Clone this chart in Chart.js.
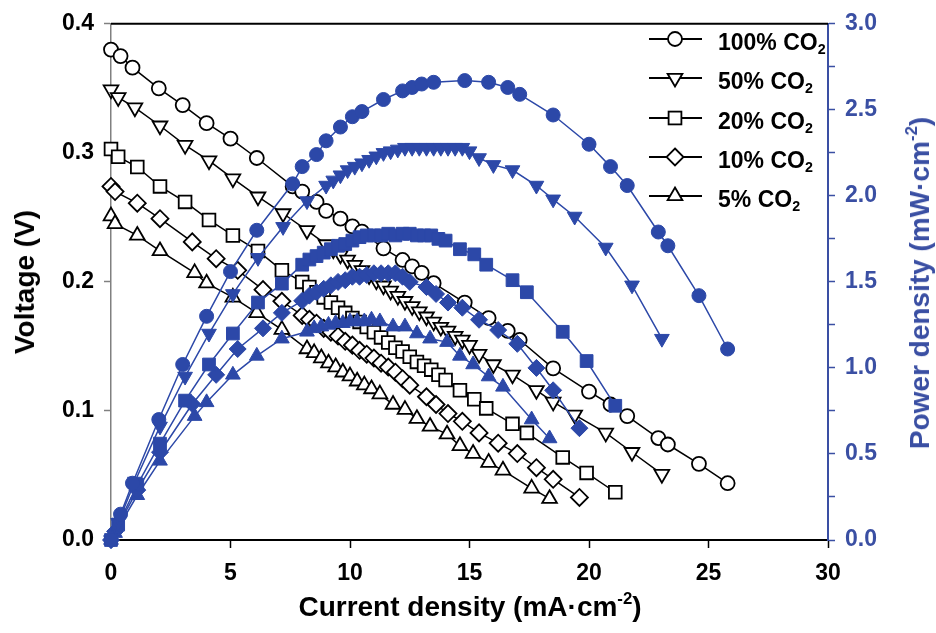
<!DOCTYPE html>
<html>
<head>
<meta charset="utf-8">
<script src="https://cdn.jsdelivr.net/npm/chart.js@4.4.1/dist/chart.umd.min.js"></script>
<style>
  html, body { margin: 0; padding: 0; background: #fff; }
  #wrap { position: relative; width: 936px; height: 633px; font-family: "Liberation Sans", Arial, sans-serif; font-weight: bold; }
  #chart { position: absolute; left: 0; top: 0; }
  .title { position: absolute; white-space: nowrap; font-size: 28px; line-height: 1; }
  .title sup { font-size: 60%; vertical-align: 0.7em; line-height: 0; }
  #ytitle { left: 25px; top: 282px; transform: translate(-50%, -50%) rotate(-90deg); color: #000; }
  #y1title { left: 920px; top: 283px; transform: translate(-50%, -50%) rotate(-90deg); color: #3a4fa3; }
  #xtitle { left: 470px; top: 607px; transform: translate(-50%, -50%); color: #000; }
  #legend { position: absolute; left: 640px; top: 22px; }
  .row { position: relative; height: 39.3px; }
  .row svg { position: absolute; left: 7px; top: 0; }
  .row span { position: absolute; left: 78px; top: 7px; font-size: 23px; white-space: nowrap; }
  .row sub { font-size: 62%; vertical-align: -0.3em; line-height: 0; }
</style>
</head>
<body>
<div id="wrap">
  <canvas id="chart" width="936" height="633"></canvas>
  <div class="title" id="ytitle">Voltage (V)</div>
  <div class="title" id="y1title">Power density (mW·cm<sup>-2</sup>)</div>
  <div class="title" id="xtitle">Current density (mA·cm<sup>-2</sup>)</div>
  <div id="legend"></div>
</div>
<script>
// current density (mA/cm2), voltage (V) and power density (mW/cm2) per CO2 share
const I100 = [0, 0.4, 0.9, 2.0, 3.0, 4.0, 5.0, 6.1, 7.6, 8.0, 8.6, 9.0, 9.6, 10.1, 10.5, 11.4, 12.2, 12.6, 13.0, 13.5, 14.8, 15.8, 16.6, 17.1, 18.5, 20.0, 20.9, 21.6, 22.9, 23.3, 24.6, 25.8];
const V100 = [0.380, 0.375, 0.366, 0.350, 0.337, 0.323, 0.311, 0.296, 0.274, 0.270, 0.262, 0.255, 0.249, 0.243, 0.239, 0.226, 0.217, 0.212, 0.207, 0.199, 0.184, 0.172, 0.162, 0.155, 0.133, 0.115, 0.105, 0.096, 0.079, 0.074, 0.059, 0.044];
const P100 = [0, 0.15, 0.33, 0.70, 1.02, 1.30, 1.56, 1.80, 2.07, 2.17, 2.24, 2.32, 2.40, 2.46, 2.49, 2.56, 2.61, 2.63, 2.65, 2.66, 2.67, 2.66, 2.63, 2.59, 2.47, 2.30, 2.17, 2.06, 1.79, 1.71, 1.42, 1.11];

const I50 = [0, 0.3, 1.0, 2.05, 3.1, 4.1, 5.1, 6.15, 7.2, 8.2, 9.0, 9.3, 9.6, 9.9, 10.2, 10.5, 10.8, 11.1, 11.4, 11.7, 12.0, 12.3, 12.6, 12.9, 13.2, 13.5, 13.8, 14.1, 14.4, 14.7, 15.0, 15.4, 16.0, 16.8, 17.8, 18.5, 19.4, 20.7, 21.8, 23.05];
const V50 = [0.349, 0.343, 0.335, 0.321, 0.306, 0.294, 0.280, 0.266, 0.253, 0.240, 0.229, 0.225, 0.221, 0.217, 0.213, 0.209, 0.205, 0.201, 0.197, 0.193, 0.189, 0.185, 0.181, 0.177, 0.173, 0.169, 0.165, 0.162, 0.158, 0.155, 0.151, 0.144, 0.136, 0.128, 0.116, 0.107, 0.097, 0.083, 0.068, 0.051];
const P50 = [0, 0.10, 0.34, 0.66, 0.95, 1.20, 1.43, 1.64, 1.82, 1.97, 2.06, 2.09, 2.12, 2.15, 2.17, 2.19, 2.21, 2.23, 2.25, 2.26, 2.27, 2.28, 2.28, 2.28, 2.28, 2.28, 2.28, 2.28, 2.28, 2.28, 2.26, 2.22, 2.18, 2.15, 2.06, 1.98, 1.88, 1.70, 1.48, 1.17];

const I20 = [0, 0.3, 1.1, 2.05, 3.1, 4.1, 5.1, 6.15, 7.15, 8.0, 8.3, 8.6, 8.9, 9.2, 9.5, 9.8, 10.1, 10.4, 10.7, 11.0, 11.3, 11.6, 11.9, 12.2, 12.5, 12.8, 13.1, 13.4, 13.7, 14.0, 14.6, 15.2, 15.7, 16.8, 17.4, 18.9, 19.9, 21.1];
const V20 = [0.303, 0.297, 0.289, 0.274, 0.262, 0.248, 0.236, 0.224, 0.209, 0.200, 0.196, 0.192, 0.188, 0.184, 0.180, 0.176, 0.172, 0.169, 0.165, 0.161, 0.157, 0.153, 0.149, 0.146, 0.142, 0.138, 0.135, 0.132, 0.128, 0.124, 0.116, 0.109, 0.102, 0.090, 0.083, 0.064, 0.052, 0.037];
const P20 = [0, 0.09, 0.32, 0.56, 0.81, 1.02, 1.20, 1.38, 1.49, 1.60, 1.63, 1.65, 1.67, 1.69, 1.71, 1.72, 1.74, 1.76, 1.77, 1.77, 1.77, 1.78, 1.77, 1.78, 1.78, 1.77, 1.77, 1.77, 1.75, 1.74, 1.69, 1.66, 1.60, 1.51, 1.44, 1.21, 1.04, 0.78];

const I10 = [0, 0.17, 1.1, 2.05, 3.4, 4.4, 5.3, 6.36, 7.15, 8.0, 8.3, 8.6, 8.9, 9.2, 9.5, 9.8, 10.1, 10.4, 10.7, 11.0, 11.3, 11.6, 11.9, 12.2, 12.5, 13.2, 13.6, 14.1, 14.7, 15.4, 16.2, 17.0, 17.8, 18.5, 19.6];
const V10 = [0.274, 0.270, 0.261, 0.249, 0.231, 0.218, 0.209, 0.194, 0.185, 0.174, 0.171, 0.168, 0.164, 0.161, 0.158, 0.154, 0.151, 0.147, 0.144, 0.141, 0.137, 0.134, 0.130, 0.125, 0.120, 0.111, 0.105, 0.098, 0.092, 0.083, 0.075, 0.067, 0.056, 0.047, 0.033];
const P10 = [0, 0.05, 0.29, 0.51, 0.79, 0.96, 1.11, 1.23, 1.32, 1.39, 1.42, 1.44, 1.46, 1.48, 1.50, 1.51, 1.53, 1.53, 1.54, 1.55, 1.55, 1.55, 1.55, 1.53, 1.50, 1.47, 1.43, 1.38, 1.35, 1.28, 1.22, 1.14, 1.00, 0.87, 0.65];

const I5 = [0, 0.17, 1.1, 2.05, 3.5, 4.0, 5.1, 6.1, 7.15, 8.2, 8.5, 8.8, 9.1, 9.4, 9.7, 10.0, 10.3, 10.6, 10.9, 11.25, 11.8, 12.3, 12.8, 13.35, 14.06, 14.6, 15.15, 15.8, 16.4, 17.6, 18.35];
const V5 = [0.251, 0.245, 0.236, 0.224, 0.207, 0.199, 0.188, 0.176, 0.163, 0.148, 0.145, 0.141, 0.137, 0.134, 0.130, 0.127, 0.123, 0.120, 0.117, 0.113, 0.105, 0.101, 0.094, 0.088, 0.082, 0.073, 0.067, 0.060, 0.054, 0.040, 0.032];
const P5 = [0, 0.04, 0.26, 0.46, 0.72, 0.80, 0.96, 1.07, 1.17, 1.21, 1.23, 1.24, 1.25, 1.26, 1.26, 1.27, 1.27, 1.27, 1.28, 1.27, 1.24, 1.24, 1.20, 1.17, 1.15, 1.07, 1.02, 0.95, 0.89, 0.70, 0.59];

const seriesLabels = ['100%', '50%', '20%', '10%', '5%'];
const xTicks = [0, 5, 10, 15, 20, 25, 30];

const BLUE = '#2c48a8';
const AXIS_BLUE = '#3a4fa3';

const groups = [
  { label: seriesLabels[0], I: I100, V: V100, P: P100, style: 'circle', rot: 0, r: 7 },
  { label: seriesLabels[1], I: I50, V: V50, P: P50, style: 'triangle', rot: 180, r: 8.5 },
  { label: seriesLabels[2], I: I20, V: V20, P: P20, style: 'rect', rot: 0, r: 9 },
  { label: seriesLabels[3], I: I10, V: V10, P: P10, style: 'rectRot', rot: 0, r: 8.5 },
  { label: seriesLabels[4], I: I5, V: V5, P: P5, style: 'triangle', rot: 0, r: 8.5 }
];

function pts(xs, ys) {
  return xs.map(function (x, i) { return { x: x, y: ys[i] }; });
}

const datasets = [];
// power curves first so they are drawn on top
groups.forEach(function (g) {
  datasets.push({
    label: g.label + ' power', data: pts(g.I, g.P), yAxisID: 'y1',
    showLine: true, borderColor: BLUE, borderWidth: 1.5,
    pointStyle: g.style, rotation: g.rot, pointRadius: g.r,
    pointBackgroundColor: BLUE, pointBorderColor: BLUE, pointBorderWidth: 1,
    clip: false
  });
});
groups.forEach(function (g) {
  datasets.push({
    label: g.label + ' voltage', data: pts(g.I, g.V), yAxisID: 'y',
    showLine: true, borderColor: '#000', borderWidth: 1.5,
    pointStyle: g.style, rotation: g.rot, pointRadius: g.r,
    pointBackgroundColor: '#fff', pointBorderColor: '#000', pointBorderWidth: 1.8,
    clip: false
  });
});

const tickFont = { family: '"Liberation Sans", Arial, sans-serif', size: 23, weight: 'bold' };

// top frame line
const frameTop = {
  id: 'frameTop',
  afterDraw: function (chart) {
    const a = chart.chartArea, ctx = chart.ctx;
    ctx.save();
    ctx.strokeStyle = '#000'; ctx.lineWidth = 2;
    ctx.beginPath(); ctx.moveTo(a.left, a.top); ctx.lineTo(a.right, a.top); ctx.stroke();
    ctx.restore();
  }
};

new Chart(document.getElementById('chart'), {
  type: 'scatter',
  data: { datasets: datasets },
  options: {
    responsive: false, animation: false,
    layout: { padding: { top: 18, left: 0, right: 0, bottom: 0 } },
    plugins: { legend: { display: false }, tooltip: { enabled: false } },
    scales: {
      x: {
        type: 'linear', min: 0, max: 30,
        afterBuildTicks: function (s) { s.ticks = xTicks.map(function (v) { return { value: v }; }); },
        ticks: { font: tickFont, color: '#000', padding: 12, callback: function (v) { return String(v); } },
        grid: { drawOnChartArea: false, tickLength: 8, tickColor: '#000', tickWidth: 1.5 },
        border: { color: '#000', width: 2 },
        afterFit: function (s) { s.height = 93; }
      },
      y: {
        position: 'left', min: 0, max: 0.4,
        ticks: { stepSize: 0.1, font: tickFont, color: '#000', padding: 10, callback: function (v) { return v.toFixed(1); } },
        grid: { drawOnChartArea: false, tickLength: 7, tickColor: '#808080', tickWidth: 1.5 },
        border: { color: '#808080', width: 1.5 },
        afterFit: function (s) { s.width = 111; }
      },
      y1: {
        position: 'right', min: 0, max: 3,
        ticks: {
          stepSize: 0.25, font: tickFont, color: AXIS_BLUE, padding: 10, autoSkip: false,
          callback: function (v) { return Math.abs(v * 2 - Math.round(v * 2)) < 1e-6 ? v.toFixed(1) : ''; }
        },
        grid: { drawOnChartArea: false, tickLength: 7, tickColor: AXIS_BLUE, tickWidth: 1.5 },
        border: { color: AXIS_BLUE, width: 2 },
        afterFit: function (s) { s.width = 108; }
      }
    }
  },
  plugins: [frameTop]
});

// legend with line + open marker and subscripted labels
function markerSvg(style) {
  let m = '';
  if (style === 'circle') m = '<circle cx="28" cy="17" r="7" fill="#fff" stroke="#000" stroke-width="1.8"/>';
  if (style === 'down') m = '<polygon points="20.6,12.8 35.4,12.8 28,25.5" fill="#fff" stroke="#000" stroke-width="1.8"/>';
  if (style === 'rect') m = '<rect x="21.6" y="10.6" width="12.8" height="12.8" fill="#fff" stroke="#000" stroke-width="1.8"/>';
  if (style === 'diamond') m = '<polygon points="28,8.5 36.5,17 28,25.5 19.5,17" fill="#fff" stroke="#000" stroke-width="1.8"/>';
  if (style === 'up') m = '<polygon points="28,8.5 35.4,21.2 20.6,21.2" fill="#fff" stroke="#000" stroke-width="1.8"/>';
  return '<svg width="60" height="34"><line x1="2" y1="17" x2="55" y2="17" stroke="#000" stroke-width="1.8"/>' + m + '</svg>';
}
const legendStyles = ['circle', 'down', 'rect', 'diamond', 'up'];
document.getElementById('legend').innerHTML = seriesLabels.map(function (l, i) {
  return '<div class="row">' + markerSvg(legendStyles[i]) + '<span>' + l + ' CO<sub>2</sub></span></div>';
}).join('');
</script>
</body>
</html>
